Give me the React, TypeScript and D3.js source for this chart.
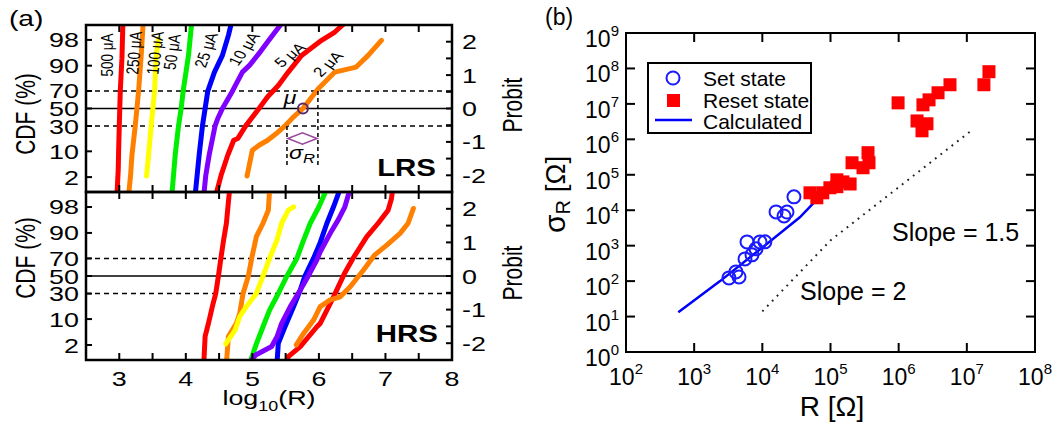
import React from 'react';
import * as d3 from 'd3';

const FONT = "'Liberation Sans', Arial, Helvetica, sans-serif";
const SX = 1.28; // panel (a) is horizontally stretched in the reference

// ---------- Panel (a) data: [log10(R), probit] ----------
const lrs500 = [[2.965, -2.6], [2.985, -1.8], [2.99, -1.28], [3.0, -0.52], [3.015, 0.52], [3.04, 1.5], [3.055, 2.6]];
const lrs250 = [[3.14, -2.6], [3.17, -2.0], [3.19, -1.4], [3.24, -0.52], [3.29, 0.52], [3.33, 1.6], [3.36, 2.6]];
const lrs100 = [[3.41, -2.02], [3.44, -1.4], [3.48, -0.52], [3.53, 0.52], [3.555, 1.59], [3.59, 2.09]];
const lrs50 = [[3.79, -2.6], [3.84, -1.4], [3.89, -0.52], [3.93, 0], [3.96, 0.52], [4.04, 1.59], [4.09, 2.6]];
const lrs25 = [[4.14, -2.6], [4.2, -1.4], [4.25, -0.52], [4.29, 0], [4.33, 0.52], [4.43, 1.09], [4.55, 1.59], [4.64, 2.19], [4.69, 2.6]];
const lrs10 = [[4.27, -2.6], [4.3, -2.0], [4.35, -1.4], [4.44, -0.52], [4.48, -0.3], [4.55, 0], [4.7, 0.52], [4.85, 1.09], [4.96, 1.3], [5.1, 1.65], [5.25, 2.05], [5.46, 2.6]];
const lrs5 = [[4.45, -2.6], [4.53, -2.0], [4.63, -1.4], [4.72, -0.95], [4.78, -0.9], [4.9, -0.52], [5.1, 0], [5.23, 0.35], [5.39, 0.69], [5.54, 1.09], [5.74, 1.59], [6.04, 2.04], [6.24, 2.29], [6.41, 2.6]];
const lrs2 = [[4.92, -2.02], [5.0, -1.25], [5.1, -1.1], [5.23, -0.95], [5.36, -0.75], [5.49, -0.52], [5.62, -0.25], [5.76, 0], [5.99, 0.59], [6.24, 1.09], [6.56, 1.24], [6.74, 1.59], [6.94, 2.04]];

const hrs500 = [[4.27, -2.6], [4.29, -1.8], [4.34, -1.41], [4.4, -0.9], [4.45, -0.52], [4.49, 0], [4.53, 0.57], [4.57, 1.1], [4.61, 1.57], [4.64, 2.2], [4.66, 2.6]];
const hrs250 = [[4.61, -2.6], [4.64, -1.8], [4.76, -1.41], [4.81, -1.11], [4.86, -0.52], [4.94, 0], [4.99, 0.53], [5.06, 1.17], [5.16, 1.57], [5.24, 1.96], [5.26, 2.6]];
const hrs100 = [[4.6, -2.02], [4.74, -1.61], [4.81, -1.21], [4.91, -0.91], [5.06, -0.52], [5.16, 0], [5.26, 0.53], [5.37, 1.07], [5.44, 1.57], [5.54, 1.96], [5.62, 2.06]];
const hrs50 = [[4.96, -2.6], [5.06, -2.02], [5.16, -1.51], [5.26, -1.01], [5.39, -0.52], [5.52, 0], [5.67, 0.53], [5.77, 1.07], [5.87, 1.57], [6.0, 2.06], [6.12, 2.6]];
const hrs25 = [[5.37, -2.6], [5.39, -2.0], [5.49, -1.51], [5.62, -0.91], [5.72, -0.42], [5.79, 0], [5.92, 0.53], [6.02, 1.0], [6.12, 1.57], [6.22, 2.06], [6.32, 2.6]];
const hrs10 = [[4.95, -2.6], [5.05, -2.35], [5.29, -2.1], [5.37, -1.81], [5.44, -1.41], [5.57, -0.91], [5.72, -0.42], [5.84, 0], [5.97, 0.48], [6.02, 0.72], [6.17, 1.27], [6.29, 1.67], [6.39, 2.06], [6.47, 2.6]];
const hrs5 = [[5.5, -2.6], [5.54, -2.4], [5.72, -2.1], [5.97, -1.51], [6.02, -1.41], [6.22, -0.62], [6.39, 0.1], [6.52, 0.55], [6.72, 1.17], [6.89, 1.57], [7.04, 1.96], [7.09, 2.3], [7.11, 2.6]];
const hrs2 = [[5.66, -2.05], [5.77, -1.71], [5.92, -1.31], [6.02, -0.91], [6.17, -0.71], [6.32, -0.62], [6.47, -0.32], [6.67, 0.18], [6.84, 0.63], [7.02, 0.92], [7.22, 1.27], [7.34, 1.57], [7.42, 2.01]];

const currentLabels = ['500 μA', '250 μA', '100 μA', '50 μA', '25 μA', '10 μA', '5 μA', '2 μA'];
const curveColors = ['#ff0000', '#ff8000', '#ffff00', '#00ee00', '#0000ff', '#8000ff', '#ff0000', '#ff8000'];
const lrsSeries = [lrs500, lrs250, lrs100, lrs50, lrs25, lrs10, lrs5, lrs2];
const hrsSeries = [hrs500, hrs250, hrs100, hrs50, hrs25, hrs10, hrs5, hrs2];

const xTicksA = [3, 4, 5, 6, 7, 8];
const cdfLabels = ['2', '10', '30', '50', '70', '90', '98'];
const cdfProbit = [-2.054, -1.282, -0.524, 0, 0.524, 1.282, 2.054];
const probitLabels = [-2, -1, 0, 1, 2];
const muLog = 5.76;
const sigmaLo = 5.52;
const sigmaHi = 5.985;

// ---------- Panel (b) data ----------
const setR = [3.24e3, 4.1e3, 4.55e3, 5.57e3, 5.96e3, 7.05e3, 8.07e3, 9.24e3, 1.09e4, 1.59e4, 2.08e4, 2.3e4, 2.91e4];
const setSigma = [123, 182, 131, 423, 1276, 550, 813, 1276, 1280, 8970, 6900, 8900, 23800];
const resetR = [5.0e4, 6.3e4, 7.7e4, 9.8e4, 1.24e5, 1.24e5, 1.52e5, 1.94e5, 2.07e5, 3.0e5, 3.55e5, 3.67e5, 9.8e5, 1.86e6, 2.2e6, 2.6e6, 2.27e6, 2.79e6, 3.78e6, 5.66e6, 1.78e7, 2.11e7];
const resetSigma = [3.1e4, 2.24e4, 3.1e4, 4.3e4, 7.2e4, 4.6e4, 6.3e4, 5.5e4, 2.18e5, 1.58e5, 4.2e5, 2.18e5, 1.07e7, 3.3e6, 1.74e6, 2.75e6, 9.4e6, 1.3e7, 2.06e7, 3.47e7, 3.47e7, 8.1e7];
const calcR = [5.85e2, 2.4e3, 1.0e4, 3.55e4, 5.9e4];
const calcSigma = [13.2, 100, 890, 6300, 17400];
const slopeR = [1.0e4, 1.0e5, 1.17e7];
const slopeSigma = [14, 1.41e3, 1.78e6];
const xDecadesB = [2, 3, 4, 5, 6, 7, 8];
const yDecadesB = [0, 1, 2, 3, 4, 5, 6, 7, 8, 9];

// ---------- scales ----------
const xA = d3.scaleLinear().domain([2.5, 8]).range([86, 452]);
const yL = d3.scaleLinear().domain([-2.5, 2.5]).range([192, 25]);
const yH = d3.scaleLinear().domain([-2.5, 2.5]).range([360, 192]);
const xB = d3.scaleLog().domain([1e2, 1e8]).range([626, 1035]);
const yB = d3.scaleLog().domain([1e0, 1e9]).range([352, 33]);

function ST(props: any) {
  const { x, y, rot = 0, size = 21, anchor = 'start', weight = 'normal', fstyle = 'normal', fill = '#000', dy, children } = props;
  return (
    <g transform={`translate(${x},${y}) scale(${SX},1)${rot ? ` rotate(${rot})` : ''}`}>
      <text x={0} y={0} dy={dy} fontSize={size} textAnchor={anchor} fontWeight={weight} fontStyle={fstyle} fill={fill} fontFamily={FONT}>
        {children}
      </text>
    </g>
  );
}

const labelPos = [
  [107, 55, -90], [134, 53, -86], [155, 53, -84], [172, 52, -83],
  [206, 50, -74], [244, 49, -60], [290, 55, -45], [328, 64, -50],
];

function Panel({ y, series, clipId, top }: any) {
  const line = d3.line<number[]>().x(d => xA(d[0])).y(d => y(d[1]));
  const x0 = 86, x1 = 452, y0 = y.range()[1], y1 = y.range()[0];
  const halfTicks = d3.range(3, 8, 0.5);
  const probitMinor = d3.range(-2, 2.01, 0.5);
  return (
    <g>
      <defs>
        <clipPath id={clipId}><rect x={x0} y={y0} width={x1 - x0} height={y1 - y0} /></clipPath>
      </defs>
      <line x1={x0} x2={x1} y1={y(0)} y2={y(0)} stroke="#000" strokeWidth={1.5} />
      <line x1={x0} x2={x1} y1={y(0.524)} y2={y(0.524)} stroke="#000" strokeWidth={1.5} strokeDasharray="5,4" />
      <line x1={x0} x2={x1} y1={y(-0.524)} y2={y(-0.524)} stroke="#000" strokeWidth={1.5} strokeDasharray="5,4" />
      <g clipPath={`url(#${clipId})`}>
        {series.map((s: number[][], i: number) => (
          <path key={i} d={line(s) || ''} fill="none" stroke={curveColors[i]} strokeWidth={5} strokeLinejoin="round" strokeLinecap="round" />
        ))}
      </g>
      {halfTicks.map((t, i) => (
        <g key={i}>
          <line x1={xA(t)} x2={xA(t)} y1={y0} y2={y0 + 7} stroke="#000" strokeWidth={2} />
          <line x1={xA(t)} x2={xA(t)} y1={y1} y2={y1 - 7} stroke="#000" strokeWidth={2} />
        </g>
      ))}
      {cdfProbit.map((p, i) => (
        <g key={i}>
          <line x1={x0} x2={x0 + 6} y1={y(p)} y2={y(p)} stroke="#000" strokeWidth={2} />
          <ST x={79} y={y(p) + 7.5} anchor="end">{cdfLabels[i]}</ST>
        </g>
      ))}
      {probitMinor.map((p, i) => (
        <line key={i} x1={x1} x2={x1 - 6} y1={y(p)} y2={y(p)} stroke="#000" strokeWidth={2} />
      ))}
      {probitLabels.map((p, i) => (
        <ST key={i} x={462} y={y(p) + 7.5}>{p < 0 ? `-${Math.abs(p)}` : `${p}`}</ST>
      ))}
      <rect x={x0} y={y0} width={x1 - x0} height={y1 - y0} fill="none" stroke="#000" strokeWidth={2.5} />
    </g>
  );
}

export default function App() {
  const calcLine = d3.line<number>().x((_, i) => xB(calcR[i])).y((_, i) => yB(calcSigma[i]));
  const slopeLine = d3.line<number>().x((_, i) => xB(slopeR[i])).y((_, i) => yB(slopeSigma[i]));
  const bL = 626, bR = 1035, bT = 33, bB = 352;
  return (
    <svg width={1064} height={428} style={{ position: 'absolute', left: 0, top: 0, background: '#fff' }} fontFamily={FONT}>
      <rect x={0} y={0} width={1064} height={428} fill="#fff" />
      {/* ---------- Panel (a) ---------- */}
      <ST x={9} y={26} size={22}>(a)</ST>
      <Panel y={yL} series={lrsSeries} clipId="clipL" />
      <Panel y={yH} series={hrsSeries} clipId="clipH" />
      {currentLabels.map((l, i) => (
        <ST key={i} x={labelPos[i][0]} y={labelPos[i][1]} rot={labelPos[i][2]} size={13.5} anchor="middle" dy="0.35em">{l}</ST>
      ))}
      {/* mu / sigma annotation */}
      <line x1={xA(sigmaLo)} x2={xA(sigmaLo)} y1={yL(-0.524)} y2={yL(-1.69)} stroke="#000" strokeWidth={1.5} strokeDasharray="4,3" />
      <line x1={xA(sigmaHi)} x2={xA(sigmaHi)} y1={yL(0.524)} y2={yL(-1.69)} stroke="#000" strokeWidth={1.5} strokeDasharray="4,3" />
      <polygon
        points={[[xA(sigmaLo) + 1, yL(-0.9)], [xA((sigmaLo + sigmaHi) / 2), yL(-0.9) - 5.7], [xA(sigmaHi) - 1, yL(-0.9)], [xA((sigmaLo + sigmaHi) / 2), yL(-0.9) + 5.7]].map(p => p.join(',')).join(' ')}
        fill="none" stroke="#9a4a9a" strokeWidth={1.6} />
      <circle cx={xA(muLog)} cy={yL(0)} r={5} fill="none" stroke="#5a2a6a" strokeWidth={2} />
      <ST x={290} y={104} size={18} anchor="middle" fstyle="italic">μ</ST>
      <ST x={289} y={159} size={18} fstyle="italic">σ<tspan fontSize={13} dy={4}>R</tspan></ST>
      <ST x={436} y={176} size={23} weight="bold" anchor="end">LRS</ST>
      <ST x={438} y={342} size={23} weight="bold" anchor="end">HRS</ST>
      {xTicksA.map((t, i) => (
        <ST key={i} x={xA(t)} y={386} anchor="middle">{t}</ST>
      ))}
      <ST x={269} y={405} anchor="middle">log<tspan fontSize={14} dy={6}>10</tspan><tspan dy={-6}>(R)</tspan></ST>
      <ST x={35} y={114} rot={-90} anchor="middle">CDF (%)</ST>
      <ST x={35} y={258} rot={-90} anchor="middle">CDF (%)</ST>
      <ST x={522} y={105} rot={-90} anchor="middle">Probit</ST>
      <ST x={522} y={273} rot={-90} anchor="middle">Probit</ST>

      {/* ---------- Panel (b) ---------- */}
      <text x={545} y={25} fontSize={23}>(b)</text>
      <path d={slopeLine(slopeR) || ''} fill="none" stroke="#222" strokeWidth={2} strokeDasharray="1.8,5.2" />
      <path d={calcLine(calcR) || ''} fill="none" stroke="#0000ff" strokeWidth={2.5} />
      {resetR.map((r, i) => (
        <rect key={i} x={xB(r) - 6.5} y={yB(resetSigma[i]) - 6.5} width={13} height={13} fill="#ff0000" />
      ))}
      {setR.map((r, i) => (
        <circle key={i} cx={xB(r)} cy={yB(setSigma[i])} r={6.5} fill="none" stroke="#1a1aff" strokeWidth={2} />
      ))}
      {xDecadesB.map((d, i) => (
        <g key={i}>
          {d > 2 && d < 8 && (
            <>
              <line x1={xB(10 ** d)} x2={xB(10 ** d)} y1={bB} y2={bB - 9} stroke="#000" strokeWidth={2} />
              <line x1={xB(10 ** d)} x2={xB(10 ** d)} y1={bT} y2={bT + 9} stroke="#000" strokeWidth={2} />
            </>
          )}
          <text x={xB(10 ** d)} y={385} fontSize={23} textAnchor="middle">10<tspan fontSize={15} dy={-11}>{d}</tspan></text>
        </g>
      ))}
      {yDecadesB.map((d, i) => (
        <g key={i}>
          {d > 0 && d < 9 && (
            <>
              <line x1={bL} x2={bL + 9} y1={yB(10 ** d)} y2={yB(10 ** d)} stroke="#000" strokeWidth={2} />
              <line x1={bR} x2={bR - 9} y1={yB(10 ** d)} y2={yB(10 ** d)} stroke="#000" strokeWidth={2} />
            </>
          )}
          <text x={619} y={yB(10 ** d) + 14} fontSize={23} textAnchor="end">10<tspan fontSize={15} dy={-11}>{d}</tspan></text>
        </g>
      ))}
      <rect x={bL} y={bT} width={bR - bL} height={bB - bT} fill="none" stroke="#000" strokeWidth={2} />
      {/* legend */}
      <rect x={648} y={63} width={163} height={70} fill="#fff" stroke="#000" strokeWidth={2} />
      <circle cx={673} cy={78} r={6.5} fill="none" stroke="#1a1aff" strokeWidth={2} />
      <text x={703} y={86} fontSize={21}>Set state</text>
      <rect x={667} y={94} width={13} height={13} fill="#ff0000" />
      <text x={703} y={107.5} fontSize={21}>Reset state</text>
      <line x1={655} x2={692} y1={120} y2={120} stroke="#0000ff" strokeWidth={2.5} />
      <text x={703} y={129} fontSize={21}>Calculated</text>
      <text x={892} y={241} fontSize={25}>Slope = 1.5</text>
      <text x={800} y={300} fontSize={25}>Slope = 2</text>
      <text x={832} y={416} fontSize={28} textAnchor="middle">R [Ω]</text>
      <text transform="translate(565,233) rotate(-90)" fontSize={28}>
        <tspan fontSize={30}>σ</tspan><tspan fontSize={20} dy={5}>R</tspan><tspan dy={-5}> [Ω]</tspan>
      </text>
    </svg>
  );
}
